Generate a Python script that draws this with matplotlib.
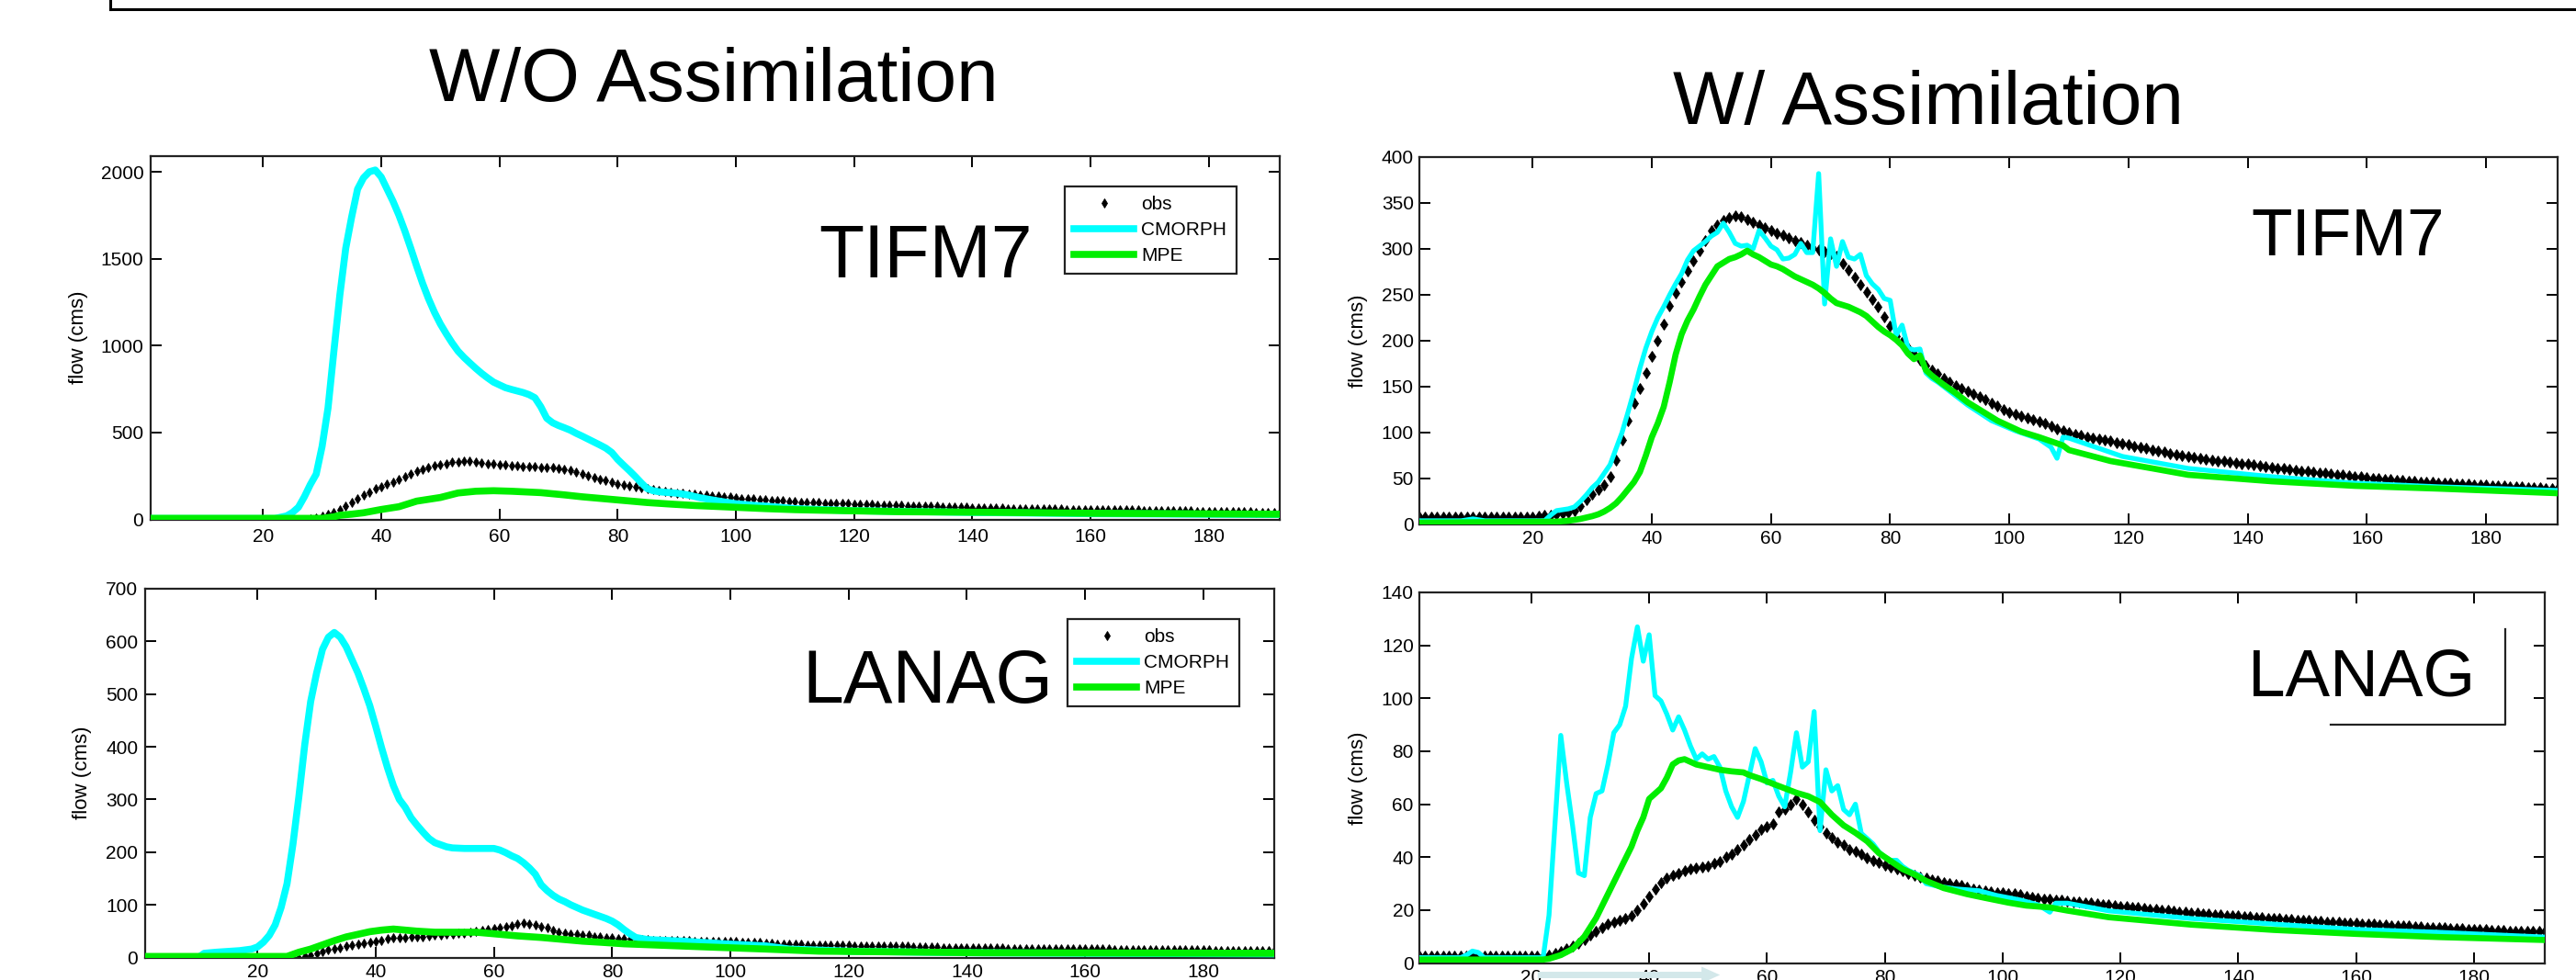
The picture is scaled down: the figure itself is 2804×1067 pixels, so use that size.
import matplotlib
matplotlib.use('Agg')
import matplotlib.pyplot as plt
from matplotlib.lines import Line2D
from matplotlib.patches import FancyArrowPatch

plt.rcParams['font.family'] = ['Liberation Sans', 'DejaVu Sans']

# ---------------- data ----------------
series_labels = ['obs', 'CMORPH', 'MPE']
col_titles = ['W/O Assimilation', 'W/ Assimilation']
basins = ['TIFM7', 'LANAG']
xticks = [20, 40, 60, 80, 100, 120, 140, 160, 180]

# TIFM7, without assimilation
tifm7_noda_obs = [
    0, 0, 0, 0, 0, 0, 0, 0, 0, 0, 0, 0, 0, 0, 0, 0, 0, 0, 0, 0, 0, 0, 0, 0,
    0, 0, 0, 5, 9, 18, 28, 42, 58, 78, 98, 118, 138, 157, 175, 189, 201, 214, 232, 248, 263, 276, 288, 299,
    309, 316, 322, 328, 332, 335, 334, 330, 326, 322, 319, 316, 313, 310, 308, 306, 304, 302, 301, 300, 298, 294, 290, 283,
    274, 264, 253, 242, 232, 222, 213, 205, 197, 191, 186, 180, 176, 171, 166, 161, 157, 153, 150, 147, 144, 141, 139, 136,
    133, 130, 127, 124, 121, 119, 117, 114, 112, 110, 108, 106, 104, 102, 100, 99, 98, 97, 95, 94, 92, 91, 90, 88,
    87, 86, 85, 84, 83, 82, 81, 80, 79, 78, 77, 76, 75, 74, 73, 72, 71, 70, 69, 67, 66, 65, 65, 64,
    64, 63, 63, 62, 62, 61, 61, 60, 60, 59, 59, 58, 58, 58, 57, 57, 57, 56, 56, 55, 55, 54, 53, 53,
    52, 52, 51, 50, 50, 49, 49, 48, 48, 47, 47, 46, 46, 45, 45, 44, 44, 43, 43, 42, 42, 42, 41, 41]
tifm7_noda_cm_x = [1, 22, 24, 25, 26, 27, 28, 29, 30, 31, 32, 33, 34, 35, 36, 37, 38, 39, 40,
                   41, 42, 43, 44, 45, 46, 47, 48, 49, 50, 51, 52, 53, 54, 55, 56, 57, 58, 59, 60,
                   61, 62, 63, 64, 65, 66, 67, 68, 69, 70, 71, 72, 73, 74, 75, 76, 77, 78, 79, 80,
                   81, 82, 83, 84, 85, 86, 87, 88, 90, 92, 94, 97, 100, 103, 106, 110, 120, 140, 160, 192]
tifm7_noda_cm_y = [5, 5, 20, 40, 70, 130, 200, 260, 420, 640, 970, 1290, 1560, 1740, 1900, 1965, 2000, 2010, 1970,
                   1900, 1830, 1750, 1659, 1560, 1457, 1358, 1270, 1192, 1125, 1068, 1015, 968, 932, 900, 869, 840, 814, 790, 774,
                   758, 748, 739, 730, 718, 700, 648, 582, 556, 540, 527, 513, 495, 479, 462, 445, 428, 410, 385, 345,
                   312, 280, 246, 210, 177, 165, 159, 156, 151, 140, 124, 106, 90, 81, 74, 62, 50, 40, 33, 28]
tifm7_noda_mpe_x = [1, 30, 32, 33, 35, 37, 40, 43, 46, 50, 53, 56, 59, 62, 67, 71, 74, 78, 81, 85, 89, 93,
                    99, 105, 110, 114, 128, 142, 161, 192]
tifm7_noda_mpe_y = [6, 6, 15, 24, 30, 38, 57, 73, 105, 126, 152, 162, 165, 162, 154, 141, 130, 118, 109, 97, 88, 80,
                    71, 62, 56, 53, 44, 41, 35, 30]

# TIFM7, with assimilation
tifm7_da_obs = [
    8, 8, 8, 8, 8, 8, 8, 8, 8, 8, 8, 8, 8, 8, 8, 8, 8, 8, 8, 8, 9, 10, 10, 11,
    12, 13, 15, 20, 27, 33, 38, 43, 52, 70, 92, 113, 132, 148, 165, 183, 200, 218, 238, 252, 264, 276, 287, 298,
    309, 320, 326, 331, 334, 336, 335, 332, 329, 326, 323, 320, 317, 315, 312, 309, 307, 304, 301, 299, 297, 295, 292, 284,
    277, 269, 261, 253, 245, 237, 226, 216, 205, 198, 192, 186, 179, 173, 168, 164, 159, 155, 151, 148, 145, 142, 139, 136,
    132, 129, 125, 122, 120, 118, 116, 114, 112, 110, 107, 104, 102, 100, 98, 97, 95, 94, 93, 92, 91, 89, 88, 87,
    85, 84, 83, 81, 80, 79, 77, 76, 75, 74, 73, 72, 71, 70, 69, 69, 68, 67, 66, 66, 65, 64, 63, 62,
    61, 61, 60, 59, 58, 58, 57, 56, 56, 55, 54, 54, 53, 52, 52, 51, 50, 50, 49, 49, 48, 48, 47, 47,
    46, 46, 46, 45, 45, 45, 44, 44, 44, 43, 43, 43, 42, 42, 42, 41, 41, 41, 40, 40, 40, 39, 39, 39]
tifm7_da_cm_x = [1, 8, 10, 12, 22, 23, 24, 26, 27, 28, 29, 30, 31, 33, 35, 36, 37, 38, 39, 40,
                 41, 42, 43, 44, 45, 46, 47, 48, 49, 50, 51, 52, 53, 54, 55, 56, 57, 58, 59, 60,
                 61, 62, 63, 64, 65, 66, 67, 68, 69, 70, 71, 72, 73, 74, 75, 76, 77, 78, 79, 80,
                 81, 82, 83, 84, 85, 86, 87, 88, 90, 93, 97, 101, 105, 107, 108, 109, 110, 119, 130, 144,
                 158, 172, 192]
tifm7_da_cm_y = [4, 4, 6, 4, 4, 10, 15, 17, 19, 25, 32, 40, 46, 65, 100, 122, 145, 170, 192, 210,
                 225, 237, 250, 262, 273, 288, 298, 303, 308, 314, 318, 328, 318, 306, 303, 304, 300, 320, 312, 303,
                 299, 289, 290, 294, 306, 296, 296, 382, 240, 311, 281, 308, 291, 289, 294, 271, 262, 256, 246, 244,
                 206, 217, 192, 190, 191, 165, 159, 155, 145, 130, 113, 102, 93, 84, 72, 95, 94, 74, 61, 52,
                 45, 41, 37]
tifm7_da_mpe_x = [1, 24, 26, 28, 30, 31, 32, 33, 34, 35, 36, 37, 38, 39, 40, 41, 42, 43, 44, 45, 46, 47, 48,
                  49, 50, 51, 52, 53, 54, 55, 56, 57, 58, 59, 60, 61, 62, 63, 64, 65, 66, 67, 68, 69, 70,
                  71, 72, 73, 74, 75, 76, 77, 78, 79, 80, 81, 82, 83, 84, 85, 86, 87, 88, 89, 91, 93, 95,
                  98, 102, 105, 109, 110, 117, 124, 130, 144, 158, 172, 192]
tifm7_da_mpe_y = [2, 3, 4, 6, 9, 11, 14, 18, 23, 30, 38, 46, 57, 75, 95, 110, 128, 155, 185, 207, 222, 234, 248,
                  261, 271, 281, 285, 289, 291, 294, 298, 294, 291, 287, 283, 281, 278, 274, 270, 267, 264, 261, 257, 252, 246,
                  241, 239, 237, 234, 231, 227, 221, 215, 210, 206, 201, 195, 186, 180, 184, 168, 162, 157, 152, 143, 133, 125,
                  113, 101, 95, 86, 81, 69, 61, 54, 47, 42, 39, 34]

# LANAG, without assimilation
lanag_noda_obs = [
    0, 0, 0, 0, 0, 0, 0, 0, 0, 0, 0, 0, 0, 0, 0, 0, 0, 0, 0, 0, 0, 0, 0, 0,
    0, 0, 0, 2, 5, 8, 11, 14, 16, 19, 21, 23, 25, 27, 29, 31, 33, 35, 37, 38, 38, 39, 39, 40,
    41, 42, 43, 44, 45, 46, 47, 48, 50, 52, 54, 55, 57, 59, 61, 63, 66, 64, 62, 59, 56, 52, 48, 47,
    45, 44, 43, 42, 40, 39, 38, 37, 36, 36, 35, 35, 34, 34, 33, 33, 33, 32, 32, 32, 32, 31, 31, 31,
    31, 31, 31, 30, 30, 29, 29, 28, 28, 27, 27, 26, 26, 25, 25, 25, 24, 24, 24, 24, 23, 23, 23, 23,
    22, 22, 22, 22, 22, 21, 21, 21, 21, 21, 20, 20, 20, 20, 20, 19, 19, 19, 19, 19, 18, 18, 18, 18,
    18, 18, 17, 17, 17, 17, 17, 17, 17, 17, 17, 17, 17, 16, 16, 16, 16, 16, 16, 16, 15, 15, 15, 15,
    15, 15, 15, 15, 14, 14, 14, 14, 14, 14, 14, 14, 14, 13, 13, 13, 13, 13, 13, 13, 13, 13, 13, 13]
lanag_noda_cm_x = [1, 10, 11, 13, 17, 19, 20, 21, 22, 23, 24, 25, 26, 27, 28, 29, 30, 31, 32, 33, 34, 35, 36,
                   37, 38, 39, 40, 41, 42, 43, 44, 45, 46, 47, 48, 49, 50, 51, 52, 53, 55, 58, 60, 61, 62,
                   63, 64, 65, 66, 67, 68, 69, 70, 71, 72, 73, 74, 75, 76, 77, 78, 79, 80, 81, 82, 83, 84,
                   86, 92, 99, 106, 110, 120, 140, 160, 192]
lanag_noda_cm_y = [0, 0, 8, 10, 13, 16, 20, 29, 42, 62, 95, 140, 215, 305, 404, 486, 540, 585, 608, 617, 608, 590, 565,
                   540, 510, 478, 439, 398, 360, 326, 300, 285, 265, 251, 238, 226, 218, 214, 210, 208, 207, 207, 207, 204, 199,
                   193, 188, 180, 170, 158, 138, 127, 118, 111, 106, 100, 95, 90, 86, 82, 78, 74, 69, 62, 53, 45, 38,
                   34, 31, 26, 22, 16, 12, 9, 8, 7]
lanag_noda_mpe_x = [1, 25, 26, 27, 29, 31, 33, 35, 37, 39, 41, 43, 45, 47, 50, 54, 57, 60, 64, 68, 72, 75, 78,
                    82, 89, 96, 106, 115, 143, 192]
lanag_noda_mpe_y = [2, 2, 6, 10, 16, 24, 32, 39, 44, 49, 52, 54, 52, 50, 48, 48, 48, 45, 41, 38, 34, 31, 29,
                    26, 23, 20, 16, 12, 9, 8]

# LANAG, with assimilation
lanag_da_obs = [
    2.5, 2.5, 2.5, 2.5, 2.5, 2.5, 2.5, 2.5, 2.5, 2.5, 2.5, 2.5, 2.5, 2.5, 2.5, 2.5, 2.5, 2.5, 2.5, 2.5, 2.5, 2.5, 3, 3.5,
    4.2, 5.4, 6.5, 7.6, 8.8, 10.5, 12, 13.5, 14.8, 15.5, 16, 16.8, 18, 20, 22.3, 25, 28, 30.5, 32, 33, 34, 35, 35.5, 36,
    36.3, 36.5, 37.5, 38.5, 40, 41, 42.8, 44.5, 46.5, 48.5, 50.5, 51.5, 52.5, 57, 58, 60, 62, 60, 57, 54, 51.5, 49, 47.5, 45.5,
    44.5, 43, 42, 41, 39.8, 38.8, 38, 37, 36.3, 35.5, 34.8, 33.8, 33.2, 32.6, 32, 31.5, 31, 30.4, 30, 29.6, 29.2, 28.6, 28.1, 27.7,
    27.3, 27, 26.7, 26.4, 26.2, 26.1, 25.8, 25.3, 24.8, 24.4, 24.2, 24, 23.8, 23.6, 23.4, 23.2, 23, 22.8, 22.6, 22.4, 22.2, 22, 21.8, 21.5,
    21.3, 21.1, 20.9, 20.7, 20.4, 20.2, 20, 19.8, 19.6, 19.4, 19.2, 19, 18.8, 18.7, 18.5, 18.3, 18.2, 18, 17.8, 17.7, 17.5, 17.4, 17.3, 17.1,
    17, 16.9, 16.7, 16.6, 16.4, 16.3, 16.1, 16, 15.8, 15.7, 15.6, 15.4, 15.3, 15.2, 15.1, 15, 14.8, 14.7, 14.6, 14.5, 14.4, 14.2, 14.1, 14,
    13.9, 13.7, 13.6, 13.5, 13.4, 13.3, 13.2, 13.1, 13, 12.9, 12.8, 12.7, 12.6, 12.5, 12.4, 12.3, 12.2, 12.1, 12.1, 12, 11.9, 11.9, 11.8, 11.8]
lanag_da_cm_x = [1, 8, 9, 10, 11, 12, 22, 23, 24, 25, 26, 27, 28, 29, 30, 31, 32, 33, 34, 35, 36, 37, 38, 39, 40,
                 41, 42, 43, 44, 45, 46, 47, 48, 49, 50, 51, 52, 53, 54, 55, 56, 57, 58, 59, 60,
                 61, 62, 63, 64, 65, 66, 67, 68, 69, 70, 71, 72, 73, 74, 75, 76, 77, 78, 79, 80,
                 81, 82, 83, 84, 85, 86, 87, 88, 89, 92, 96, 99, 103, 106, 108, 109, 111, 118, 132, 146,
                 160, 174, 192]
lanag_da_cm_y = [2, 2, 3, 4.5, 4, 2, 2, 18, 52, 86, 68, 52, 34, 33, 55, 64, 65, 75, 87, 90, 97, 115, 127, 114, 124,
                 101, 99, 94, 88, 93, 88, 82, 77, 79, 77, 78, 74, 65, 59, 55, 61, 71, 81, 76, 68,
                 69, 63, 59, 72, 87, 74, 76, 95, 50, 73, 65, 67, 58, 56, 60, 49, 47, 45, 42, 40,
                 38.8, 38.8, 36.5, 35, 34, 33, 30, 29.5, 29, 28, 27.3, 25.5, 23.8, 22, 19.2, 22.6, 22.6, 19.7, 16.8, 14.7,
                 12.7, 11.6, 9.8]
lanag_da_mpe_x = [1, 22, 23, 25, 27, 29, 31, 33, 35, 37, 38, 39, 40, 41, 42, 43, 44, 45, 46, 47, 48, 50, 52,
                  54, 56, 57, 59, 61, 63, 65, 67, 69, 71, 73, 75, 77, 79, 81, 83, 85, 87, 90, 94, 97,
                  101, 104, 108, 111, 118, 132, 146, 160, 174, 192]
lanag_da_mpe_y = [1.3, 1.3, 1.6, 3, 5.3, 10, 17, 26, 35, 44, 50, 55, 62, 64, 66, 70, 75, 76.5, 77, 76, 75, 74, 73,
                  72.4, 72, 71, 69.5, 67.7, 66, 64.3, 63, 60.8, 56, 52, 49.2, 46, 41.5, 38.5, 35.5, 33.5, 31, 28.3, 26, 24.6,
                  22.8, 21.7, 21, 19.8, 17.3, 14.5, 12.5, 11, 9.8, 8.7]

yticks_tl = [0, 500, 1000, 1500, 2000]
yticks_tr = [0, 50, 100, 150, 200, 250, 300, 350, 400]
yticks_bl = [0, 100, 200, 300, 400, 500, 600, 700]
yticks_br = [0, 20, 40, 60, 80, 100, 120, 140]

# ---------------- figure ----------------
W, H = 2804, 1067
fig = plt.figure(figsize=(W / 100, H / 100), dpi=100)

CYAN = '#00ffff'
GREEN = '#00ee00'
SPINE = '#222222'


def px_rect(l, t, r, b):
    return [l / W, 1 - b / H, (r - l) / W, (b - t) / H]


def panel(rect, obs, cmx, cmy, mpx, mpy, ylim, yticks, lw_cm, lw_mpe, ms, ylab_x, xpad, ypad):
    ax = fig.add_axes(rect)
    hrs = list(range(1, len(obs) + 1))
    ax.plot(hrs, obs, ls='none', marker='d', ms=ms, color='black', mec='black', mew=0.6,
            label=series_labels[0], zorder=2)
    ax.plot(cmx, cmy, color=CYAN, lw=lw_cm, label=series_labels[1], zorder=3)
    ax.plot(mpx, mpy, color=GREEN, lw=lw_mpe, label=series_labels[2], zorder=4)
    ax.set_xlim(1, 192)
    ax.set_ylim(*ylim)
    ax.set_xticks(xticks)
    ax.set_yticks(yticks)
    ax.tick_params(direction='in', top=True, right=True, length=8.5, width=1.4,
                   labelsize=15, colors='black')
    ax.tick_params(axis='x', pad=xpad)
    ax.tick_params(axis='y', pad=ypad)
    for s in ax.spines.values():
        s.set_linewidth(1.6)
        s.set_color(SPINE)
    ax.set_ylabel('flow (cms)', fontsize=16, va='center')
    ax.yaxis.set_label_coords(ylab_x, 0.5)
    return ax


ax_tl = panel(px_rect(164, 170, 1393, 565.5), tifm7_noda_obs, tifm7_noda_cm_x, tifm7_noda_cm_y,
              tifm7_noda_mpe_x, tifm7_noda_mpe_y, (0, 2090), yticks_tl, 5.5, 5.5, 5.5, -0.0635, 7, 5.5)
ax_tr = panel(px_rect(1545, 171, 2784, 571), tifm7_da_obs, tifm7_da_cm_x, tifm7_da_cm_y,
              tifm7_da_mpe_x, tifm7_da_mpe_y, (0, 400), yticks_tr, 3.8, 4.8, 6, -0.0533, 4.5, 4.5)
ax_bl = panel(px_rect(158, 641, 1387, 1042.5), lanag_noda_obs, lanag_noda_cm_x, lanag_noda_cm_y,
              lanag_noda_mpe_x, lanag_noda_mpe_y, (0, 700), yticks_bl, 5.5, 5.5, 5.5, -0.0561, 4.5, 5.5)
ax_br = panel(px_rect(1545, 645, 2770, 1048.5), lanag_da_obs, lanag_da_cm_x, lanag_da_cm_y,
              lanag_da_mpe_x, lanag_da_mpe_y, (0, 140), yticks_br, 3.8, 4.8, 6, -0.0539, 4.5, 4.5)

# legends (left panels)
for ax, anchor in ((ax_tl, (0.8096, 0.9166)), (ax_bl, (0.8169, 0.9178))):
    leg = ax.legend(loc='upper left', bbox_to_anchor=anchor, borderaxespad=0, frameon=True,
                    fancybox=False, edgecolor=SPINE, framealpha=1, fontsize=15,
                    handlelength=3.1, handletextpad=0.4, borderpad=0.5, labelspacing=0.42,
                    numpoints=1)
    leg.get_frame().set_linewidth(1.6)
    leg.set_zorder(10)

# remnant of a legend frame on the lower right panel
ax_br.add_line(Line2D([0.8098, 0.9649, 0.9649], [0.6431, 0.6431, 0.9009], transform=ax_br.transAxes,
                      color=SPINE, lw=1.6, zorder=6))

# titles and station names
fig.text(777 / W, 1 - 110 / H, col_titles[0], ha='center', va='baseline', fontsize=59)
fig.text(2099 / W, 1 - 135 / H, col_titles[1], ha='center', va='baseline', fontsize=59)
fig.text(891 / W, 1 - 302 / H, basins[0], ha='left', va='baseline', fontsize=58, zorder=5)
fig.text(873 / W, 1 - 765 / H, basins[1], ha='left', va='baseline', fontsize=58, zorder=5)
fig.text(2450 / W, 1 - 278 / H, basins[0], ha='left', va='baseline', fontsize=52.5, zorder=5)
fig.text(2447 / W, 1 - 758 / H, basins[1], ha='left', va='baseline', fontsize=52.5, zorder=5)

# slide frame at the very top
fig.add_artist(Line2D([120 / W, 1.0], [1 - 10 / H, 1 - 10 / H], transform=fig.transFigure,
                      color='black', lw=2.2))
fig.add_artist(Line2D([120 / W, 120 / W], [1.0, 1 - 10 / H], transform=fig.transFigure,
                      color='black', lw=2.2))

# faint arrow over the lower-right tick labels
arr = FancyArrowPatch((1671 / W, 1 - 1061.5 / H), (1875 / W, 1 - 1061.5 / H),
                      transform=fig.transFigure,
                      arrowstyle='simple,head_length=1.45,head_width=1.3,tail_width=0.5',
                      mutation_scale=10, facecolor='#d3e8ea', edgecolor='none', zorder=20)
fig.add_artist(arr)

fig.savefig('out.png', dpi=100)
